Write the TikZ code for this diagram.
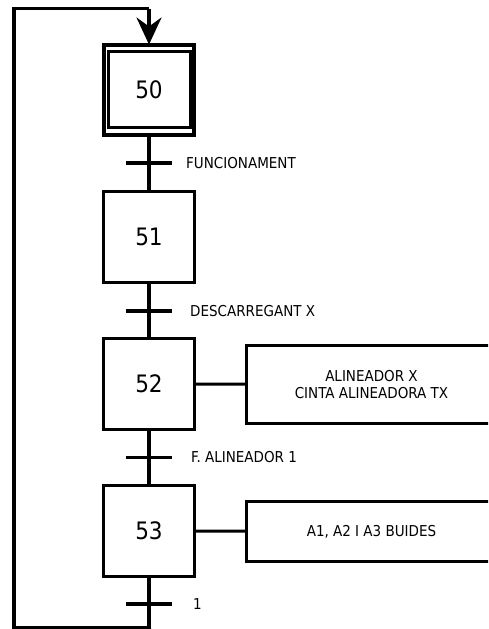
\documentclass[tikz,border=0pt]{standalone}
\usepackage{fontspec}
\setmainfont{DejaVu Sans Condensed}
\usetikzlibrary{arrows.meta,calc}

\tikzset{
  stepbox/.style={draw, line width=3.5pt, minimum size=91pt, inner sep=0pt,
    outer sep=0pt, font=\fontsize{24}{28}\selectfont},
  actbox/.style={draw, line width=3.5pt, minimum width=250pt, anchor=west,
    inner sep=0pt, outer sep=0pt, align=center,
    font=\fontsize{15}{17}\selectfont},
  trbar/.style={fill=black, minimum width=46pt, minimum height=3.8pt,
    inner sep=0pt, outer sep=0pt},
  trlabel/.style={anchor=west, inner sep=0pt, font=\fontsize{15}{17}\selectfont},
  link/.style={line width=3.5pt},
}

\begin{document}
\begin{tikzpicture}[x=1pt, y=-1pt]
  \path[use as bounding box, clip] (0,0) rectangle (488,629);

  % steps
  \node[stepbox, minimum size=90pt, line width=4pt] (s50) at (149,89.5) {50};
  \draw[line width=3.5pt] ($(s50.north west)+(4.5,7)$) rectangle ($(s50.south east)+(-3,-7)$);
  \node[stepbox] (s51) at (149,237) {51};
  \node[stepbox] (s52) at (149,384) {52};
  \node[stepbox] (s53) at (149,531) {53};

  % transitions
  \node[trbar] (t1) at (149,163) {};
  \node[trbar] (t2) at (149,311) {};
  \node[trbar] (t3) at (149,457.5) {};
  \node[trbar] (t4) at (149,604) {};
  \node[trlabel] (l1) at ($(t1.east)+(14,0)$) {FUNCIONAMENT};
  \node[trlabel] (l2) at ($(t2.east)+(18,0)$) {DESCARREGANT X};
  \node[trlabel] (l3) at ($(t3.east)+(19,0)$) {F. ALINEADOR 1};
  \node[trlabel] (l4) at ($(t4.east)+(21,0)$) {1};

  % actions
  \node[actbox, minimum height=78pt] (a52) at (246.5,384.5)
    {ALINEADOR X\\CINTA ALINEADORA TX};
  \node[actbox, minimum height=60pt] (a53) at (246.5,531.5) {A1, A2 I A3 BUIDES};
  \draw[line width=3pt] (s52) -- (a52);
  \draw[line width=3pt] (s53) -- (a53);

  % links
  \draw[link] (s50) -- (t1) -- (s51);
  \draw[link] (s51) -- (t2) -- (s52);
  \draw[link] (s52) -- (t3) -- (s53);

  % loop back
  \coordinate (lb) at (149,627.5);
  \coordinate (bl) at (14,627.5);
  \coordinate (tl) at (14,8.5);
  \coordinate (tr) at (149,8.5);
  \draw[link] (s53) -- (t4) -- (lb) -- (bl) -- (tl) -- (tr);
  \draw[link, -{Stealth[length=27pt, width=25pt, inset=9pt]}] (tr) -- (s50);
\end{tikzpicture}
\end{document}
